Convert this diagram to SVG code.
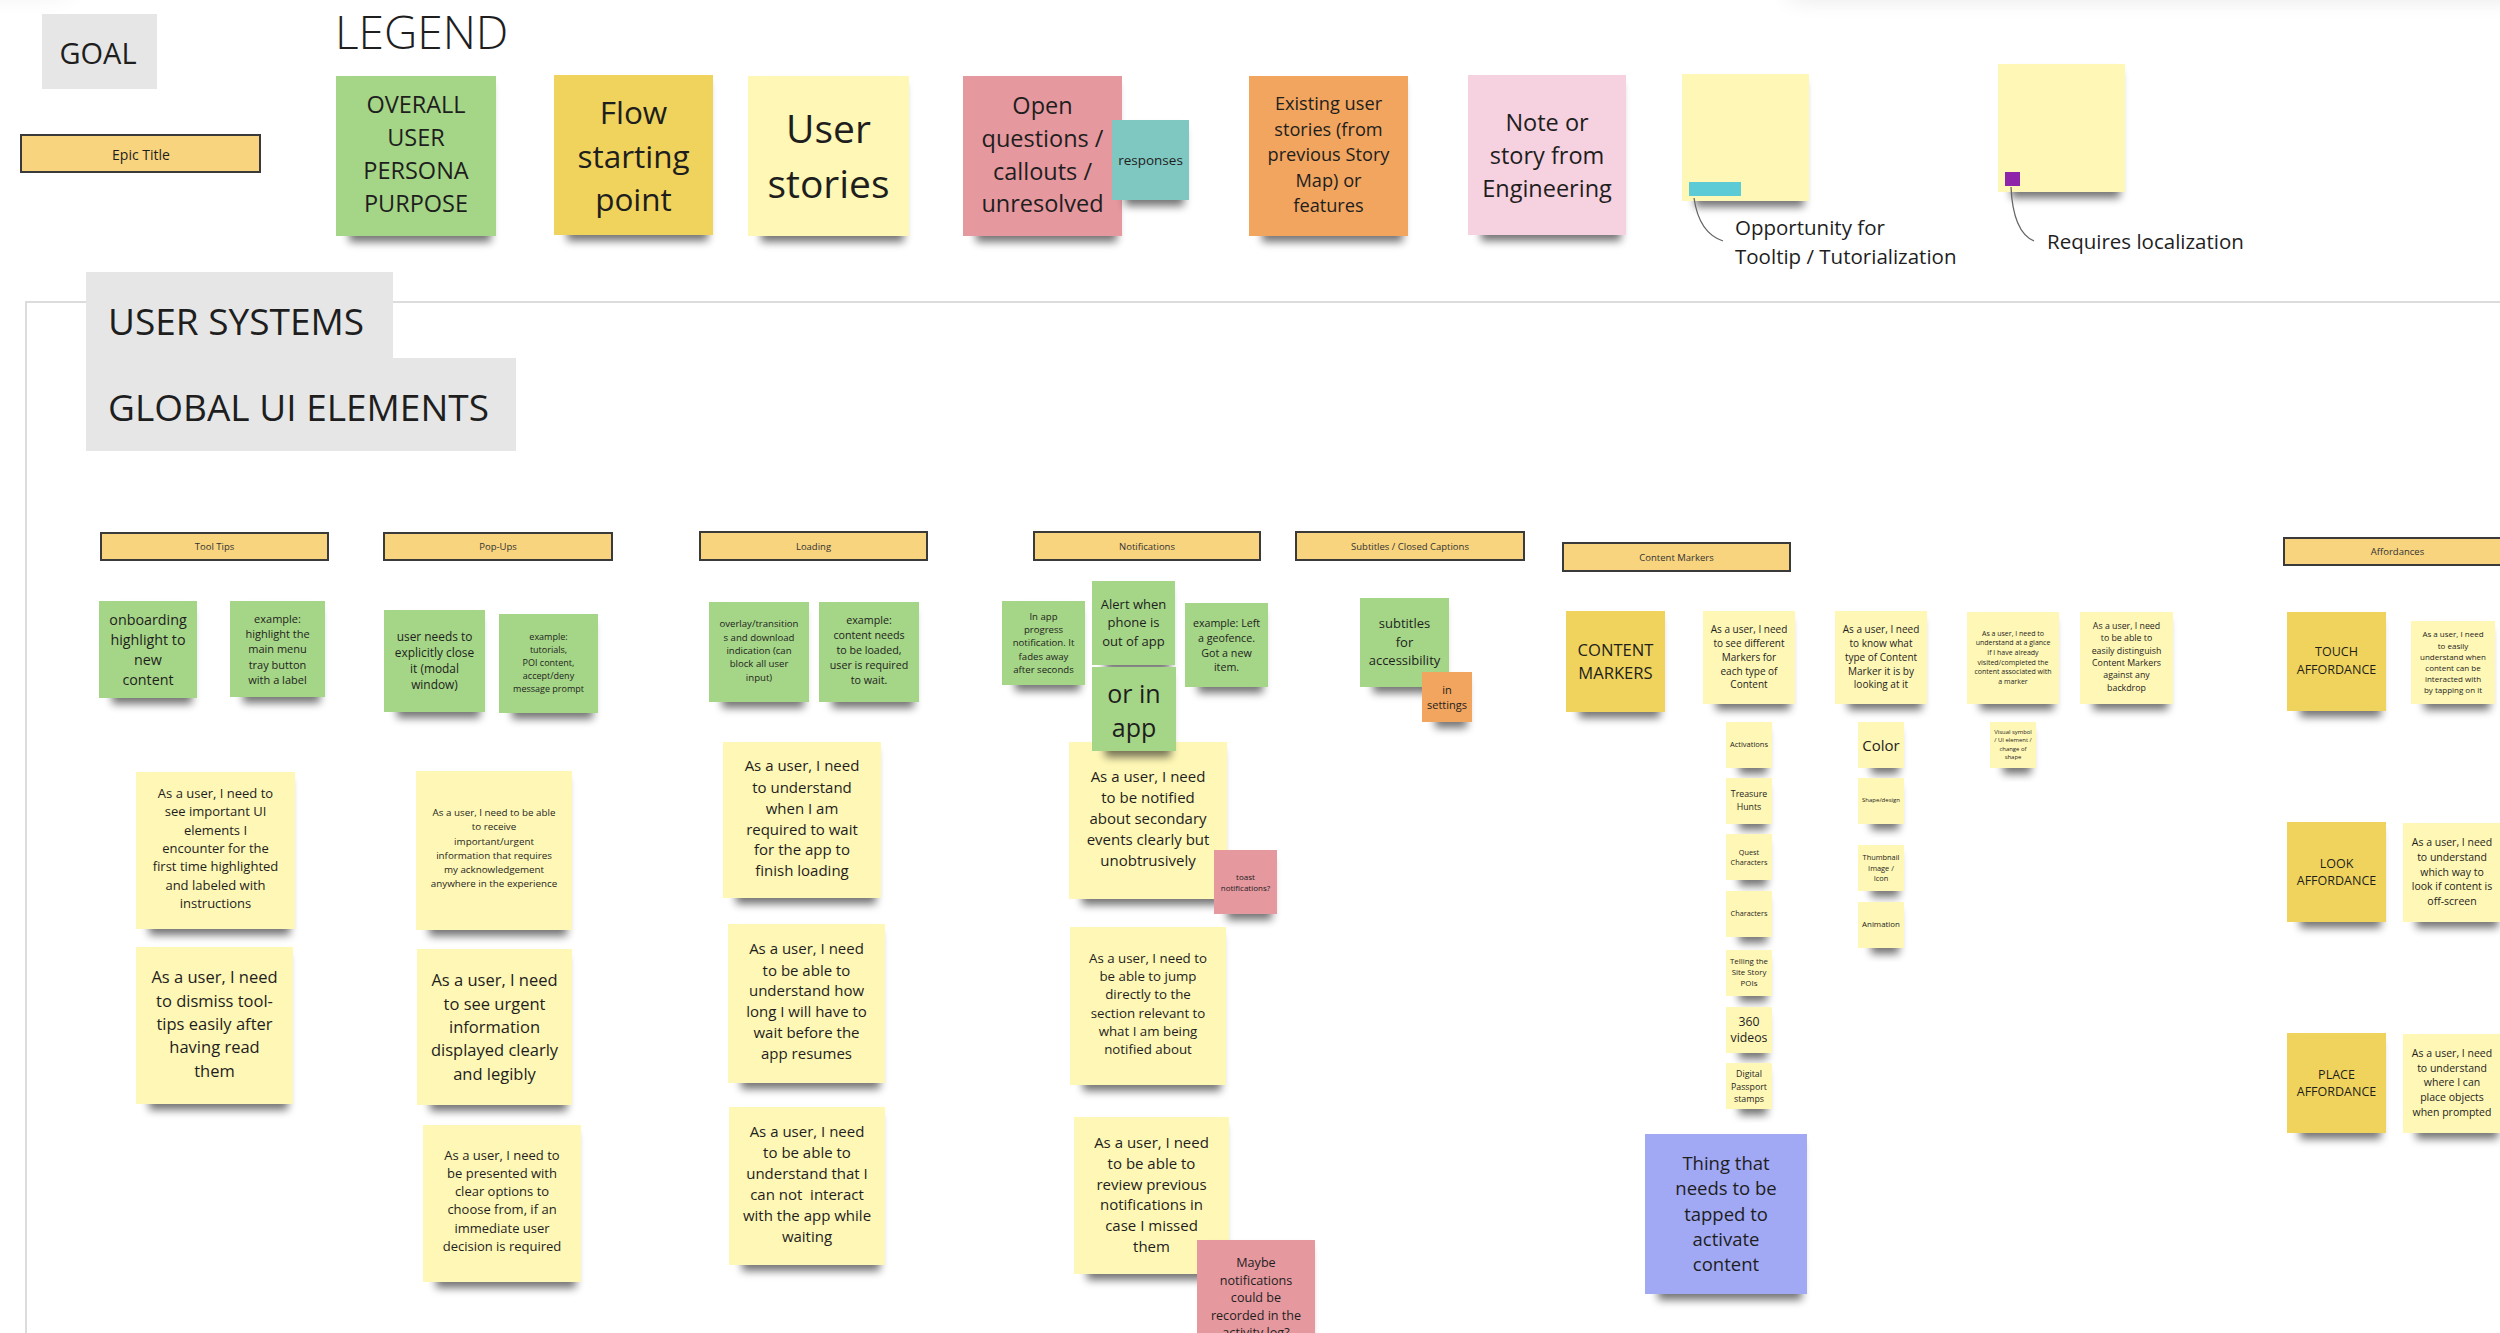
<svg xmlns="http://www.w3.org/2000/svg" width="2500" height="1333" viewBox="0 0 2500 1333">
<defs>
<filter id="sh" x="-20%" y="-20%" width="140%" height="150%">
<feMorphology in="SourceAlpha" operator="erode" radius="9 1" result="e"/>
<feOffset in="e" dx="4" dy="7" result="o"/>
<feGaussianBlur in="o" stdDeviation="4" result="b"/>
<feComponentTransfer in="b" result="c"><feFuncA type="linear" slope="0.55"/></feComponentTransfer>
<feMerge><feMergeNode in="c"/><feMergeNode in="SourceGraphic"/></feMerge>
</filter>
<filter id="blur" x="-50%" y="-200%" width="200%" height="500%"><feGaussianBlur stdDeviation="12"/></filter>
</defs>
<style>
.s{filter:url(#sh)}
.y{fill:#fef7b5}
.g{fill:#a5d586}
.o{fill:#efd35b}
.r{fill:#e5989e}
.t{fill:#7fc7c1}
.or{fill:#f1a55e}
.pk{fill:#f6d1df}
.pu{fill:#a1a9f5}
.gr{fill:#e6e6e6}
.hd{fill:#f8d47f;stroke:#3a3a3a;stroke-width:2}
text{font-family:"Open Sans","Noto Sans","DejaVu Sans",sans-serif;fill:#1e1e1e;text-anchor:middle;dominant-baseline:central}
.l{text-anchor:start}
.lt{font-weight:300}
.ht{font-size:9.5px;fill:#333}
.ln{fill:none;stroke:#666;stroke-width:1.3}
</style>
<rect width="2500" height="1333" fill="#ffffff"/>
<rect x="1790" y="-40" width="760" height="38" fill="#000" opacity="0.10" filter="url(#blur)"/>
<rect x="-120" y="-40" width="190" height="34" fill="#000" opacity="0.07" filter="url(#blur)"/>

<!-- LEGEND -->
<g id="goal"><rect class="gr" x="42" y="14" width="115" height="75"/><text font-size="29"><tspan x="98" y="52">GOAL</tspan></text></g>
<g id="legend-title"><text class="l lt" font-size="46" x="335" y="31">LEGEND</text></g>
<g id="epic-title"><rect class="hd" x="21" y="135" width="239" height="37"/><text font-size="14" fill="#333"><tspan x="141" y="154">Epic Title</tspan></text></g>
<g id="leg-persona"><rect class="s g" x="336" y="76" width="160" height="160"/><text font-size="23.5"><tspan x="416" y="104">OVERALL</tspan><tspan x="416" y="137">USER</tspan><tspan x="416" y="170">PERSONA</tspan><tspan x="416" y="203">PURPOSE</tspan></text></g>
<g id="leg-flow"><rect class="s o" x="554" y="75" width="159" height="160"/><text font-size="31.5"><tspan x="633.5" y="111">Flow</tspan><tspan x="633.5" y="155">starting</tspan><tspan x="633.5" y="198">point</tspan></text></g>
<g id="leg-stories"><rect class="s y" x="748" y="76" width="161" height="160"/><text font-size="39"><tspan x="828.5" y="127">User</tspan><tspan x="828.5" y="182">stories</tspan></text></g>
<g id="leg-open"><rect class="s r" x="963" y="76" width="159" height="160"/><text font-size="23.5"><tspan x="1042.5" y="105">Open</tspan><tspan x="1042.5" y="138">questions /</tspan><tspan x="1042.5" y="171">callouts /</tspan><tspan x="1042.5" y="203">unresolved</tspan></text></g>
<g id="leg-responses"><rect class="s t" x="1112" y="120" width="77" height="80"/><text font-size="13.5"><tspan x="1150.5" y="160">responses</tspan></text></g>
<g id="leg-existing"><rect class="s or" x="1249" y="76" width="159" height="160"/><text font-size="18.2"><tspan x="1328.5" y="103">Existing user</tspan><tspan x="1328.5" y="129">stories (from</tspan><tspan x="1328.5" y="154">previous Story</tspan><tspan x="1328.5" y="180">Map) or</tspan><tspan x="1328.5" y="205">features</tspan></text></g>
<g id="leg-engineering"><rect class="s pk" x="1468" y="75" width="158" height="160"/><text font-size="23.5"><tspan x="1547" y="122">Note or</tspan><tspan x="1547" y="155">story from</tspan><tspan x="1547" y="188">Engineering</tspan></text></g>
<g id="leg-tooltip"><rect class="s y" x="1682" y="74" width="127" height="127"/><rect x="1689" y="182" width="52" height="14" fill="#5ccbd5"/></g>
<g id="leg-tooltip-label"><text class="l" font-size="20.5"><tspan x="1735" y="227">Opportunity for</tspan><tspan x="1735" y="256">Tooltip / Tutorialization</tspan></text></g>
<g id="leg-local"><rect class="s y" x="1998" y="64" width="127" height="128"/><rect x="2005" y="172" width="15" height="14" fill="#8e24aa"/></g>
<g id="leg-local-label"><text class="l" font-size="20.5" x="2047" y="241">Requires localization</text></g>

<g id="connectors">
<path class="ln" d="M1694,198 Q1699,233 1723,241"/>
<path class="ln" d="M2011,187 Q2013,232 2034,241"/>
</g>

<!-- SECTION -->
<path d="M26,1333 V302 H2500" fill="none" stroke="#dcdcdc" stroke-width="2"/>
<g id="user-systems"><rect class="gr" x="86" y="272" width="307" height="87"/><text class="l" font-size="37" x="108" y="320">USER SYSTEMS</text></g>
<g id="global-ui"><rect class="gr" x="86" y="358" width="430" height="93"/><text class="l" font-size="37" x="108" y="406">GLOBAL UI ELEMENTS</text></g>

<!-- headers -->
<g id="h-tooltips"><rect class="hd" x="101" y="533" width="227" height="27"/><text class="ht" x="214.5" y="546.5">Tool Tips</text></g>
<g id="h-popups"><rect class="hd" x="384" y="533" width="228" height="27"/><text class="ht" x="498" y="546.5">Pop-Ups</text></g>
<g id="h-loading"><rect class="hd" x="700" y="532" width="227" height="28"/><text class="ht" x="813.5" y="546">Loading</text></g>
<g id="h-notifications"><rect class="hd" x="1034" y="532" width="226" height="28"/><text class="ht" x="1147" y="546">Notifications</text></g>
<g id="h-subtitles"><rect class="hd" x="1296" y="532" width="228" height="28"/><text class="ht" x="1410" y="546">Subtitles / Closed Captions</text></g>
<g id="h-content"><rect class="hd" x="1563" y="543" width="227" height="28"/><text class="ht" x="1676.5" y="557">Content Markers</text></g>
<g id="h-affordances"><rect class="hd" x="2284" y="538" width="227" height="27"/><text class="ht" x="2397.5" y="551.5">Affordances</text></g>

<!-- Tool Tips -->
<g id="tt-g1"><rect class="s g" x="99" y="601" width="98" height="97"/><text font-size="14.3"><tspan x="148" y="619">onboarding</tspan><tspan x="148" y="639">highlight to</tspan><tspan x="148" y="659">new</tspan><tspan x="148" y="679">content</tspan></text></g>
<g id="tt-g2"><rect class="s g" x="230" y="601" width="95" height="96"/><text font-size="11"><tspan x="277.5" y="618">example:</tspan><tspan x="277.5" y="633">highlight the</tspan><tspan x="277.5" y="648">main menu</tspan><tspan x="277.5" y="664">tray button</tspan><tspan x="277.5" y="679">with a label</tspan></text></g>
<g id="tt-y1"><rect class="s y" x="136" y="772" width="159" height="157"/><text font-size="13"><tspan x="215.5" y="793">As a user, I need to</tspan><tspan x="215.5" y="811">see important UI</tspan><tspan x="215.5" y="830">elements I</tspan><tspan x="215.5" y="848">encounter for the</tspan><tspan x="215.5" y="866">first time highlighted</tspan><tspan x="215.5" y="885">and labeled with</tspan><tspan x="215.5" y="903">instructions</tspan></text></g>
<g id="tt-y2"><rect class="s y" x="136" y="947" width="157" height="157"/><text font-size="16.5"><tspan x="214.5" y="976">As a user, I need</tspan><tspan x="214.5" y="1000">to dismiss tool-</tspan><tspan x="214.5" y="1023">tips easily after</tspan><tspan x="214.5" y="1046">having read</tspan><tspan x="214.5" y="1070">them</tspan></text></g>

<!-- Pop-Ups -->
<g id="pu-g1"><rect class="s g" x="384" y="610" width="101" height="102"/><text font-size="11.9"><tspan x="434.5" y="636">user needs to</tspan><tspan x="434.5" y="652">explicitly close</tspan><tspan x="434.5" y="668">it (modal</tspan><tspan x="434.5" y="684">window)</tspan></text></g>
<g id="pu-g2"><rect class="s g" x="499" y="614" width="99" height="99"/><text font-size="9"><tspan x="548.5" y="636">example:</tspan><tspan x="548.5" y="649">tutorials,</tspan><tspan x="548.5" y="662">POI content,</tspan><tspan x="548.5" y="675">accept/deny</tspan><tspan x="548.5" y="688">message prompt</tspan></text></g>
<g id="pu-y1"><rect class="s y" x="416" y="771" width="156" height="159"/><text font-size="9.8"><tspan x="494" y="812">As a user, I need to be able</tspan><tspan x="494" y="826">to receive</tspan><tspan x="494" y="841">important/urgent</tspan><tspan x="494" y="855">information that requires</tspan><tspan x="494" y="869">my acknowledgement</tspan><tspan x="494" y="883">anywhere in the experience</tspan></text></g>
<g id="pu-y2"><rect class="s y" x="417" y="949" width="155" height="156"/><text font-size="16.5"><tspan x="494.5" y="979">As a user, I need</tspan><tspan x="494.5" y="1003">to see urgent</tspan><tspan x="494.5" y="1026">information</tspan><tspan x="494.5" y="1049">displayed clearly</tspan><tspan x="494.5" y="1073">and legibly</tspan></text></g>
<g id="pu-y3"><rect class="s y" x="423" y="1125" width="158" height="157"/><text font-size="13"><tspan x="502" y="1155">As a user, I need to</tspan><tspan x="502" y="1173">be presented with</tspan><tspan x="502" y="1191">clear options to</tspan><tspan x="502" y="1209">choose from, if an</tspan><tspan x="502" y="1228">immediate user</tspan><tspan x="502" y="1246">decision is required</tspan></text></g>

<!-- Loading -->
<g id="ld-g1"><rect class="s g" x="709" y="602" width="100" height="100"/><text font-size="9.6"><tspan x="759" y="623">overlay/transition</tspan><tspan x="759" y="637">s and download</tspan><tspan x="759" y="650">indication (can</tspan><tspan x="759" y="663">block all user</tspan><tspan x="759" y="677">input)</tspan></text></g>
<g id="ld-g2"><rect class="s g" x="819" y="602" width="100" height="100"/><text font-size="10.7"><tspan x="869" y="620">example:</tspan><tspan x="869" y="635">content needs</tspan><tspan x="869" y="650">to be loaded,</tspan><tspan x="869" y="665">user is required</tspan><tspan x="869" y="680">to wait.</tspan></text></g>
<g id="ld-y1"><rect class="s y" x="723" y="742" width="158" height="156"/><text font-size="15"><tspan x="802" y="765">As a user, I need</tspan><tspan x="802" y="787">to understand</tspan><tspan x="802" y="808">when I am</tspan><tspan x="802" y="829">required to wait</tspan><tspan x="802" y="849">for the app to</tspan><tspan x="802" y="870">finish loading</tspan></text></g>
<g id="ld-y2"><rect class="s y" x="728" y="924" width="157" height="159"/><text font-size="15"><tspan x="806.5" y="948">As a user, I need</tspan><tspan x="806.5" y="970">to be able to</tspan><tspan x="806.5" y="990">understand how</tspan><tspan x="806.5" y="1011">long I will have to</tspan><tspan x="806.5" y="1032">wait before the</tspan><tspan x="806.5" y="1053">app resumes</tspan></text></g>
<g id="ld-y3"><rect class="s y" x="729" y="1107" width="156" height="158"/><text font-size="15"><tspan x="807" y="1131">As a user, I need</tspan><tspan x="807" y="1152">to be able to</tspan><tspan x="807" y="1173">understand that I</tspan><tspan x="807" y="1194">can not&#160; interact</tspan><tspan x="807" y="1215">with the app while</tspan><tspan x="807" y="1236">waiting</tspan></text></g>

<!-- Notifications -->
<g id="nt-g1"><rect class="s g" x="1002" y="601" width="83" height="84"/><text font-size="9.6"><tspan x="1043.5" y="616">In app</tspan><tspan x="1043.5" y="629">progress</tspan><tspan x="1043.5" y="642">notification. It</tspan><tspan x="1043.5" y="656">fades away</tspan><tspan x="1043.5" y="669">after seconds</tspan></text></g>
<g id="nt-g2"><rect class="s g" x="1092" y="581" width="83" height="84"/><text font-size="13"><tspan x="1133.5" y="604">Alert when</tspan><tspan x="1133.5" y="622">phone is</tspan><tspan x="1133.5" y="641">out of app</tspan></text></g>
<g id="nt-g3"><rect class="s g" x="1185" y="603" width="83" height="84"/><text font-size="10.7"><tspan x="1226.5" y="623">example: Left</tspan><tspan x="1226.5" y="638">a geofence.</tspan><tspan x="1226.5" y="653">Got a new</tspan><tspan x="1226.5" y="667">item.</tspan></text></g>
<g id="nt-y1"><rect class="s y" x="1069" y="742" width="158" height="157"/><text font-size="15"><tspan x="1148" y="776">As a user, I need</tspan><tspan x="1148" y="797">to be notified</tspan><tspan x="1148" y="818">about secondary</tspan><tspan x="1148" y="839">events clearly but</tspan><tspan x="1148" y="860">unobtrusively</tspan></text></g>
<g id="nt-g4"><rect class="s g" x="1092" y="667" width="84" height="84"/><text font-size="25"><tspan x="1134" y="693">or in</tspan><tspan x="1134" y="727">app</tspan></text></g>
<g id="nt-r1"><rect class="s r" x="1214" y="850" width="63" height="64"/><text font-size="8"><tspan x="1245.5" y="876">toast</tspan><tspan x="1245.5" y="887">notifications?</tspan></text></g>
<g id="nt-y2"><rect class="s y" x="1070" y="927" width="156" height="158"/><text font-size="13.3"><tspan x="1148" y="958">As a user, I need to</tspan><tspan x="1148" y="976">be able to jump</tspan><tspan x="1148" y="994">directly to the</tspan><tspan x="1148" y="1013">section relevant to</tspan><tspan x="1148" y="1031">what I am being</tspan><tspan x="1148" y="1049">notified about</tspan></text></g>
<g id="nt-y3"><rect class="s y" x="1074" y="1117" width="155" height="157"/><text font-size="15"><tspan x="1151.5" y="1142">As a user, I need</tspan><tspan x="1151.5" y="1163">to be able to</tspan><tspan x="1151.5" y="1184">review previous</tspan><tspan x="1151.5" y="1204">notifications in</tspan><tspan x="1151.5" y="1225">case I missed</tspan><tspan x="1151.5" y="1246">them</tspan></text></g>
<g id="nt-r2"><rect class="s r" x="1197" y="1240" width="118" height="118"/><text font-size="12.6"><tspan x="1256" y="1262">Maybe</tspan><tspan x="1256" y="1280">notifications</tspan><tspan x="1256" y="1297">could be</tspan><tspan x="1256" y="1315">recorded in the</tspan><tspan x="1256" y="1332">activity log?</tspan></text></g>

<!-- Subtitles -->
<g id="st-g1"><rect class="s g" x="1360" y="598" width="89" height="89"/><text font-size="13"><tspan x="1404.5" y="623">subtitles</tspan><tspan x="1404.5" y="642">for</tspan><tspan x="1404.5" y="660">accessibility</tspan></text></g>
<g id="st-o1"><rect class="s or" x="1422" y="672" width="50" height="50"/><text font-size="11"><tspan x="1447" y="689">in</tspan><tspan x="1447" y="704">settings</tspan></text></g>

<!-- Content Markers -->
<g id="cm-gold"><rect class="s o" x="1566" y="611" width="99" height="101"/><text font-size="16.6"><tspan x="1615.5" y="649">CONTENT</tspan><tspan x="1615.5" y="672">MARKERS</tspan></text></g>
<g id="cm-y1"><rect class="s y" x="1703" y="611" width="92" height="93"/><text font-size="10"><tspan x="1749" y="629">As a user, I need</tspan><tspan x="1749" y="643">to see different</tspan><tspan x="1749" y="657">Markers for</tspan><tspan x="1749" y="671">each type of</tspan><tspan x="1749" y="684">Content</tspan></text></g>
<g id="cm-y2"><rect class="s y" x="1835" y="611" width="92" height="93"/><text font-size="10"><tspan x="1881" y="629">As a user, I need</tspan><tspan x="1881" y="643">to know what</tspan><tspan x="1881" y="657">type of Content</tspan><tspan x="1881" y="671">Marker it is by</tspan><tspan x="1881" y="684">looking at it</tspan></text></g>
<g id="cm-y3"><rect class="s y" x="1967" y="612" width="92" height="92"/><text font-size="7"><tspan x="2013" y="633">As a user, I need to</tspan><tspan x="2013" y="642">understand at a glance</tspan><tspan x="2013" y="652">if I have already</tspan><tspan x="2013" y="662">visited/completed the</tspan><tspan x="2013" y="671">content associated with</tspan><tspan x="2013" y="681">a marker</tspan></text></g>
<g id="cm-y4"><rect class="s y" x="2080" y="612" width="93" height="92"/><text font-size="8.8"><tspan x="2126.5" y="626">As a user, I need</tspan><tspan x="2126.5" y="638">to be able to</tspan><tspan x="2126.5" y="651">easily distinguish</tspan><tspan x="2126.5" y="663">Content Markers</tspan><tspan x="2126.5" y="675">against any</tspan><tspan x="2126.5" y="688">backdrop</tspan></text></g>
<g id="cm-activations"><rect class="s y" x="1726" y="722" width="46" height="46"/><text font-size="7.5" x="1749" y="744">Activations</text></g>
<g id="cm-treasure"><rect class="s y" x="1726" y="778" width="46" height="46"/><text font-size="8.8"><tspan x="1749" y="794">Treasure</tspan><tspan x="1749" y="807">Hunts</tspan></text></g>
<g id="cm-quest"><rect class="s y" x="1726" y="834" width="46" height="46"/><text font-size="7.3"><tspan x="1749" y="852">Quest</tspan><tspan x="1749" y="862">Characters</tspan></text></g>
<g id="cm-characters"><rect class="s y" x="1726" y="891" width="46" height="46"/><text font-size="7.3" x="1749" y="913">Characters</text></g>
<g id="cm-telling"><rect class="s y" x="1726" y="950" width="46" height="46"/><text font-size="7.9"><tspan x="1749" y="961">Telling the</tspan><tspan x="1749" y="972">Site Story</tspan><tspan x="1749" y="983">POIs</tspan></text></g>
<g id="cm-360"><rect class="s y" x="1726" y="1007" width="46" height="46"/><text font-size="12.3"><tspan x="1749" y="1021">360</tspan><tspan x="1749" y="1037">videos</tspan></text></g>
<g id="cm-passport"><rect class="s y" x="1726" y="1063" width="46" height="46"/><text font-size="8.8"><tspan x="1749" y="1074">Digital</tspan><tspan x="1749" y="1087">Passport</tspan><tspan x="1749" y="1099">stamps</tspan></text></g>
<g id="cm-color"><rect class="s y" x="1858" y="722" width="46" height="46"/><text font-size="15" x="1881" y="745">Color</text></g>
<g id="cm-shape"><rect class="s y" x="1858" y="778" width="46" height="46"/><text font-size="6" x="1881" y="800">Shape/design</text></g>
<g id="cm-thumb"><rect class="s y" x="1858" y="845" width="46" height="46"/><text font-size="7.4"><tspan x="1881" y="857">Thumbnail</tspan><tspan x="1881" y="868">Image /</tspan><tspan x="1881" y="878">Icon</tspan></text></g>
<g id="cm-animation"><rect class="s y" x="1858" y="902" width="46" height="46"/><text font-size="7.9" x="1881" y="924">Animation</text></g>
<g id="cm-visual"><rect class="s y" x="1990" y="722" width="46" height="46"/><text font-size="5.9"><tspan x="2013" y="732">Visual symbol</tspan><tspan x="2013" y="740">/ UI element /</tspan><tspan x="2013" y="749">change of</tspan><tspan x="2013" y="757">shape</tspan></text></g>
<g id="cm-tap"><rect class="s pu" x="1645" y="1134" width="162" height="160"/><text font-size="18.5"><tspan x="1726" y="1162">Thing that</tspan><tspan x="1726" y="1187">needs to be</tspan><tspan x="1726" y="1213">tapped to</tspan><tspan x="1726" y="1238">activate</tspan><tspan x="1726" y="1263">content</tspan></text></g>

<!-- Affordances -->
<g id="af-touch"><rect class="s o" x="2287" y="612" width="99" height="99"/><text font-size="12.5"><tspan x="2336.5" y="651">TOUCH</tspan><tspan x="2336.5" y="669">AFFORDANCE</tspan></text></g>
<g id="af-touch-story"><rect class="s y" x="2411" y="621" width="84" height="83"/><text font-size="8"><tspan x="2453" y="633">As a user, I need</tspan><tspan x="2453" y="645">to easily</tspan><tspan x="2453" y="656">understand when</tspan><tspan x="2453" y="667">content can be</tspan><tspan x="2453" y="678">interacted with</tspan><tspan x="2453" y="689">by tapping on it</tspan></text></g>
<g id="af-look"><rect class="s o" x="2287" y="822" width="99" height="100"/><text font-size="12.5"><tspan x="2336.5" y="863">LOOK</tspan><tspan x="2336.5" y="880">AFFORDANCE</tspan></text></g>
<g id="af-look-story"><rect class="s y" x="2403" y="823" width="100" height="99"/><text font-size="10.5"><tspan x="2452" y="842">As a user, I need</tspan><tspan x="2452" y="857">to understand</tspan><tspan x="2452" y="872">which way to</tspan><tspan x="2452" y="886">look if content is</tspan><tspan x="2452" y="901">off-screen</tspan></text></g>
<g id="af-place"><rect class="s o" x="2287" y="1033" width="99" height="100"/><text font-size="12.5"><tspan x="2336.5" y="1074">PLACE</tspan><tspan x="2336.5" y="1091">AFFORDANCE</tspan></text></g>
<g id="af-place-story"><rect class="s y" x="2403" y="1034" width="100" height="99"/><text font-size="10.5"><tspan x="2452" y="1053">As a user, I need</tspan><tspan x="2452" y="1068">to understand</tspan><tspan x="2452" y="1082">where I can</tspan><tspan x="2452" y="1097">place objects</tspan><tspan x="2452" y="1112">when prompted</tspan></text></g>
</svg>
